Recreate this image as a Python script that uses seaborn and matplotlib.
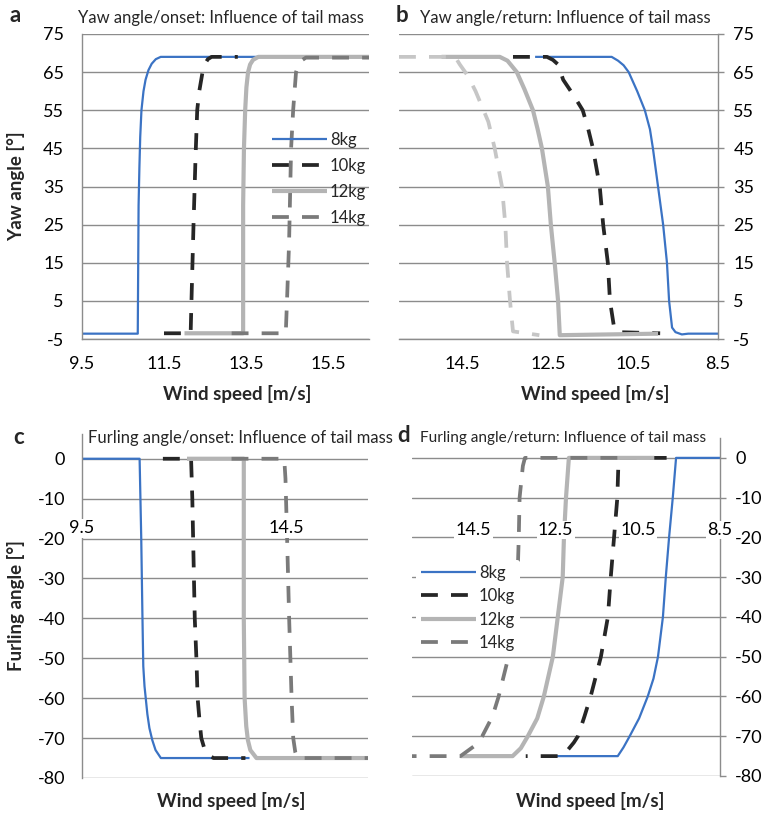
import matplotlib
matplotlib.use("Agg")
import matplotlib.pyplot as plt
import seaborn as sns

# ---------------- data ----------------
SERIES = ["8kg", "10kg", "12kg", "14kg"]

# a: yaw angle / onset
A8_X = [9.5, 10.86, 10.88, 10.9, 10.92, 10.95, 11.0, 11.05, 11.12, 11.2, 11.3, 11.42, 14.5]
A8_Y = [-3.6, -3.6, 30, 40, 48, 55, 60, 63, 65.5, 67.2, 68.4, 69, 69]
A10_X = [11.5, 12.15, 12.17, 12.22, 12.27, 12.31, 12.36, 12.44, 12.5, 12.57, 12.66, 13.3]
A10_Y = [-3.5, -3.5, 5, 25, 43, 55, 60, 65, 67.2, 68.4, 69, 69]
A12_X = [12.0, 13.43, 13.43, 13.45, 13.48, 13.51, 13.55, 13.6, 13.67, 13.8, 16.5]
A12_Y = [-3.5, -3.5, 30, 45, 55, 61, 65, 67, 68.2, 69, 69]
A14_X = [13.15, 14.47, 14.5, 14.55, 14.6, 14.65, 14.72, 14.78, 14.85, 14.96, 16.5]
A14_Y = [-3.5, -3.5, 5, 20, 45, 55, 65, 67, 68, 68.8, 68.8]

# b: yaw angle / return
B8_X = [12.8, 11.0, 10.85, 10.72, 10.6, 10.4, 10.22, 10.1, 10.03, 9.91, 9.79, 9.7,
        9.65, 9.6, 9.58, 9.5, 9.35, 9.2, 8.5]
B8_Y = [69, 69, 68, 66.8, 65, 60, 55, 50, 45, 35, 25, 15, 5, 0, -2, -3.2, -3.8, -3.6, -3.6]
B10_X = [13.32, 12.52, 12.38, 12.26, 12.14, 11.9, 11.68, 11.55, 11.44, 11.28, 11.2,
         11.09, 11.04, 10.95, 10.85, 9.86]
B10_Y = [69, 69, 68.2, 67, 63, 59, 55, 50, 45, 35, 25, 15, 5, -1.5, -3.2, -3.5]
B12_X = [15.0, 13.63, 13.45, 13.23, 13.05, 12.85, 12.74, 12.64, 12.5, 12.43, 12.34,
         12.26, 12.22, 9.91]
B12_Y = [69, 69, 68, 65, 60.5, 55, 50, 45, 35, 25, 15, 5, -4, -3.6]
B14_X = [16.0, 14.68, 14.57, 14.38, 14.2, 14.05, 13.9, 13.75, 13.58, 13.5, 13.46,
         13.39, 13.32, 12.7]
B14_Y = [69, 69, 67, 64, 60, 56, 52, 45, 35, 25, 15, 5, -3, -4]

# c: furling angle / onset
C8_X = [9.5, 10.91, 10.95, 10.98, 11.0, 11.03, 11.06, 11.1, 11.15, 11.22, 11.3, 11.43, 13.6]
C8_Y = [0, 0, -20, -40, -52, -57, -60, -64, -67.5, -70.5, -73, -75, -75]
C10_X = [11.48, 12.17, 12.2, 12.23, 12.26, 12.3, 12.33, 12.38, 12.42, 12.5, 12.6, 12.72, 13.5]
C10_Y = [0, 0, -10, -25, -40, -50, -60, -66, -70, -72.8, -74.3, -75, -75]
C12_X = [12.07, 13.46, 13.46, 13.48, 13.52, 13.56, 13.62, 13.77, 16.5]
C12_Y = [0, 0, -40, -60, -67, -70.5, -73, -75, -75]
C14_X = [13.16, 14.45, 14.48, 14.52, 14.57, 14.6, 14.63, 14.67, 14.72, 14.77, 16.5]
C14_Y = [0, 0, -5, -20, -40, -50, -60, -70, -73.5, -75, -75]

# d: furling angle / return
D8_X = [8.5, 9.57, 9.65, 9.74, 9.82, 9.89, 10.01, 10.12, 10.26, 10.47, 10.7, 10.85,
        10.99, 12.79]
D8_Y = [0, 0, -10, -20, -30, -40, -50, -55.5, -60, -65.5, -70, -72.8, -75, -75]
D10_X = [9.8, 10.97, 11.0, 11.08, 11.16, 11.23, 11.4, 11.65, 11.8, 11.96, 12.06,
         12.25, 12.43, 13.23]
D10_Y = [0, 0, -10, -20, -30, -40, -50, -60, -65, -70, -71.6, -74, -75, -75]
D12_X = [10.1, 12.18, 12.25, 12.3, 12.33, 12.45, 12.57, 12.79, 12.95, 13.18, 13.35,
         13.55, 14.82]
D12_Y = [0, 0, -10, -20, -30, -40, -50, -60, -65.5, -70, -73, -75, -75]
D14_X = [11.0, 13.25, 13.3, 13.38, 13.4, 13.43, 13.52, 13.65, 13.89, 14.04, 14.29,
         14.5, 14.82, 16.0]
D14_Y = [0, 0, -2, -10, -20, -30, -40, -50, -60, -65, -70, -72.6, -75, -75]

YAW_TICKS = [-5, 5, 15, 25, 35, 45, 55, 65, 75]
FURL_TICKS = [0, -10, -20, -30, -40, -50, -60, -70, -80]
A_XTICKS = [9.5, 11.5, 13.5, 15.5]
B_XTICKS = [14.5, 12.5, 10.5, 8.5]
C_XTICKS = [9.5, 14.5]
D_XTICKS = [14.5, 12.5, 10.5, 8.5]

TITLES = ["Yaw angle/onset: Influence of tail mass",
          "Yaw angle/return: Influence of tail mass",
          "Furling angle/onset: Influence of tail mass",
          "Furling angle/return: Influence of tail mass"]
LETTERS = ["a", "b", "c", "d"]

# ---------------- style ----------------
sns.set_style("white")
plt.rcParams["font.family"] = ["Lato", "DejaVu Sans"]
plt.rcParams["axes.unicode_minus"] = False

GRID = "#8c8c8c"
DASH = (0, (4.5, 3.5))
STY = {
    "8kg": dict(color="#3b73c4", lw=1.6, ls="-"),
    "10kg": dict(color="#262626", lw=2.7, ls=DASH),
    "12kg": dict(color="#b4b4b4", lw=3.0, ls="-"),
    "14kg": dict(color="#7a7a7a", lw=2.7, ls=DASH),
}
TICK_FS = 13
LABEL_FS = 13.5

fig = plt.figure(figsize=(7.64, 8.15), dpi=100)
W, H = 764, 815


def axes_px(l, t, r, b):
    return fig.add_axes([l / W, 1 - b / H, (r - l) / W, (b - t) / H])


axa = axes_px(82, 34, 369, 339)
axb = axes_px(399, 34, 718, 339)
axc = axes_px(82, 434, 368, 778)
axd = axes_px(412, 438, 720, 776)

panels = [
    (axa, [(A8_X, A8_Y), (A10_X, A10_Y), (A12_X, A12_Y), (A14_X, A14_Y)], True),
    (axb, [(B8_X, B8_Y), (B10_X, B10_Y), (B12_X, B12_Y), (B14_X, B14_Y)], False),
    (axc, [(C8_X, C8_Y), (C10_X, C10_Y), (C12_X, C12_Y), (C14_X, C14_Y)], False),
    (axd, [(D8_X, D8_Y), (D10_X, D10_Y), (D12_X, D12_Y), (D14_X, D14_Y)], True),
]

for i, (ax, data, leg) in enumerate(panels):
    for name, (xs, ys) in zip(SERIES, data):
        st = dict(STY[name])
        if ax is axb and name == "14kg":
            st["color"] = "#c6c6c6"
        sns.lineplot(x=xs, y=ys, ax=ax, estimator=None, sort=False,
                     color=st["color"], lw=st["lw"], linestyle=st["ls"],
                     label=name if leg else None, legend=False,
                     solid_capstyle="butt", dash_capstyle="butt",
                     solid_joinstyle="round")
    ax.grid(axis="y", color=GRID, lw=1.0)
    ax.grid(axis="x", visible=False)
    for s in ax.spines.values():
        s.set_color(GRID)
        s.set_linewidth(1.0)
    ax.tick_params(colors="black", labelsize=TICK_FS, length=6, width=1.0,
                   direction="out")
    ax.tick_params(axis="both", color=GRID)
    ax.set_xlabel("Wind speed [m/s]", fontsize=LABEL_FS, fontweight="bold")

# panel a
axa.set_xlim(9.5, 16.5)
axa.set_ylim(-5, 75)
axa.set_yticks(YAW_TICKS)
axa.set_xticks(A_XTICKS)
axa.set_xticklabels([f"{v:g}" for v in A_XTICKS])
axa.spines["top"].set_visible(False)
axa.spines["right"].set_visible(False)
axa.set_ylabel("Yaw angle [°]", fontsize=LABEL_FS, fontweight="bold")
axa.yaxis.set_label_coords(-0.2, 0.5)
axa.xaxis.set_label_coords(0.54, -0.15)
axa.tick_params(axis="y", pad=7)
axa.tick_params(axis="x", pad=6)

# panel b
axb.set_xlim(16.0, 8.5)
axb.set_ylim(-5, 75)
axb.set_yticks(YAW_TICKS)
axb.set_xticks(B_XTICKS)
axb.set_xticklabels([f"{v:g}" for v in B_XTICKS])
axb.yaxis.tick_right()
axb.spines["top"].set_visible(False)
axb.spines["left"].set_visible(False)
axb.tick_params(axis="y", pad=7, length=4)
axb.tick_params(axis="x", pad=6)
axb.set_ylabel("")
axb.xaxis.set_label_coords(0.615, -0.15)

# panel c
axc.set_xlim(9.5, 16.5)
axc.set_ylim(-80, 6.2)
axc.set_yticks(FURL_TICKS)
axc.set_xticks(C_XTICKS)
axc.set_xticklabels([f"{v:g}" for v in C_XTICKS])
axc.spines["top"].set_visible(False)
axc.spines["right"].set_visible(False)
axc.spines["bottom"].set_position(("data", -10))
axc.spines["bottom"].set_visible(False)
axc.tick_params(axis="x", length=0, pad=15.5)
axc.tick_params(axis="y", pad=7, length=5)
axc.set_ylabel("Furling angle [°]", fontsize=LABEL_FS, fontweight="bold")
axc.yaxis.set_label_coords(-0.2, 0.5)
axc.xaxis.set_label_coords(0.521, -0.042)

# panel d
axd.set_xlim(16.0, 8.5)
axd.set_ylim(-80, 5)
axd.set_yticks(FURL_TICKS)
axd.set_xticks(D_XTICKS)
axd.set_xticklabels([f"{v:g}" for v in D_XTICKS])
axd.yaxis.tick_right()
axd.spines["top"].set_visible(False)
axd.spines["left"].set_visible(False)
axd.spines["bottom"].set_position(("data", -10))
axd.spines["bottom"].set_visible(False)
axd.tick_params(axis="x", length=6, pad=11.5)
axd.tick_params(axis="y", pad=7, length=4)
axd.set_ylabel("")
axd.xaxis.set_label_coords(0.578, -0.048)

for ax in (axc, axd):
    ax.xaxis.set_zorder(3)
    for lbl in ax.get_xticklabels():
        lbl.set_bbox(dict(fc="white", ec="none", pad=1.0))

# legends
axa.legend(loc="upper left", bbox_to_anchor=(0.655, 0.685), frameon=False,
           fontsize=12, handlelength=3.3, labelspacing=0.6,
           handletextpad=0.2, borderpad=0.1, borderaxespad=0.0)
lg = axd.legend(loc="upper left", bbox_to_anchor=(0.012, 0.64), frameon=True,
                fontsize=12, handlelength=3.3, labelspacing=0.45,
                handletextpad=0.2, borderpad=0.3, borderaxespad=0.0)
lg.get_frame().set_facecolor("white")
lg.get_frame().set_edgecolor("none")
lg.get_frame().set_alpha(1.0)

# titles and letters
title_pos = [(78, 18), (420, 18), (88, 438), (420, 438)]
title_fs = [12, 12, 12, 11.1]
letter_pos = [(10, 16), (396, 16), (13, 438), (397, 436)]
for t, (x, y), fs in zip(TITLES, title_pos, title_fs):
    fig.text(x / W, 1 - y / H, t, fontsize=fs, va="center", ha="left")
for l, (x, y) in zip(LETTERS, letter_pos):
    fig.text(x / W, 1 - y / H, l, fontsize=16, fontweight="bold",
             va="center", ha="left")

fig.savefig("out.png", dpi=100)
